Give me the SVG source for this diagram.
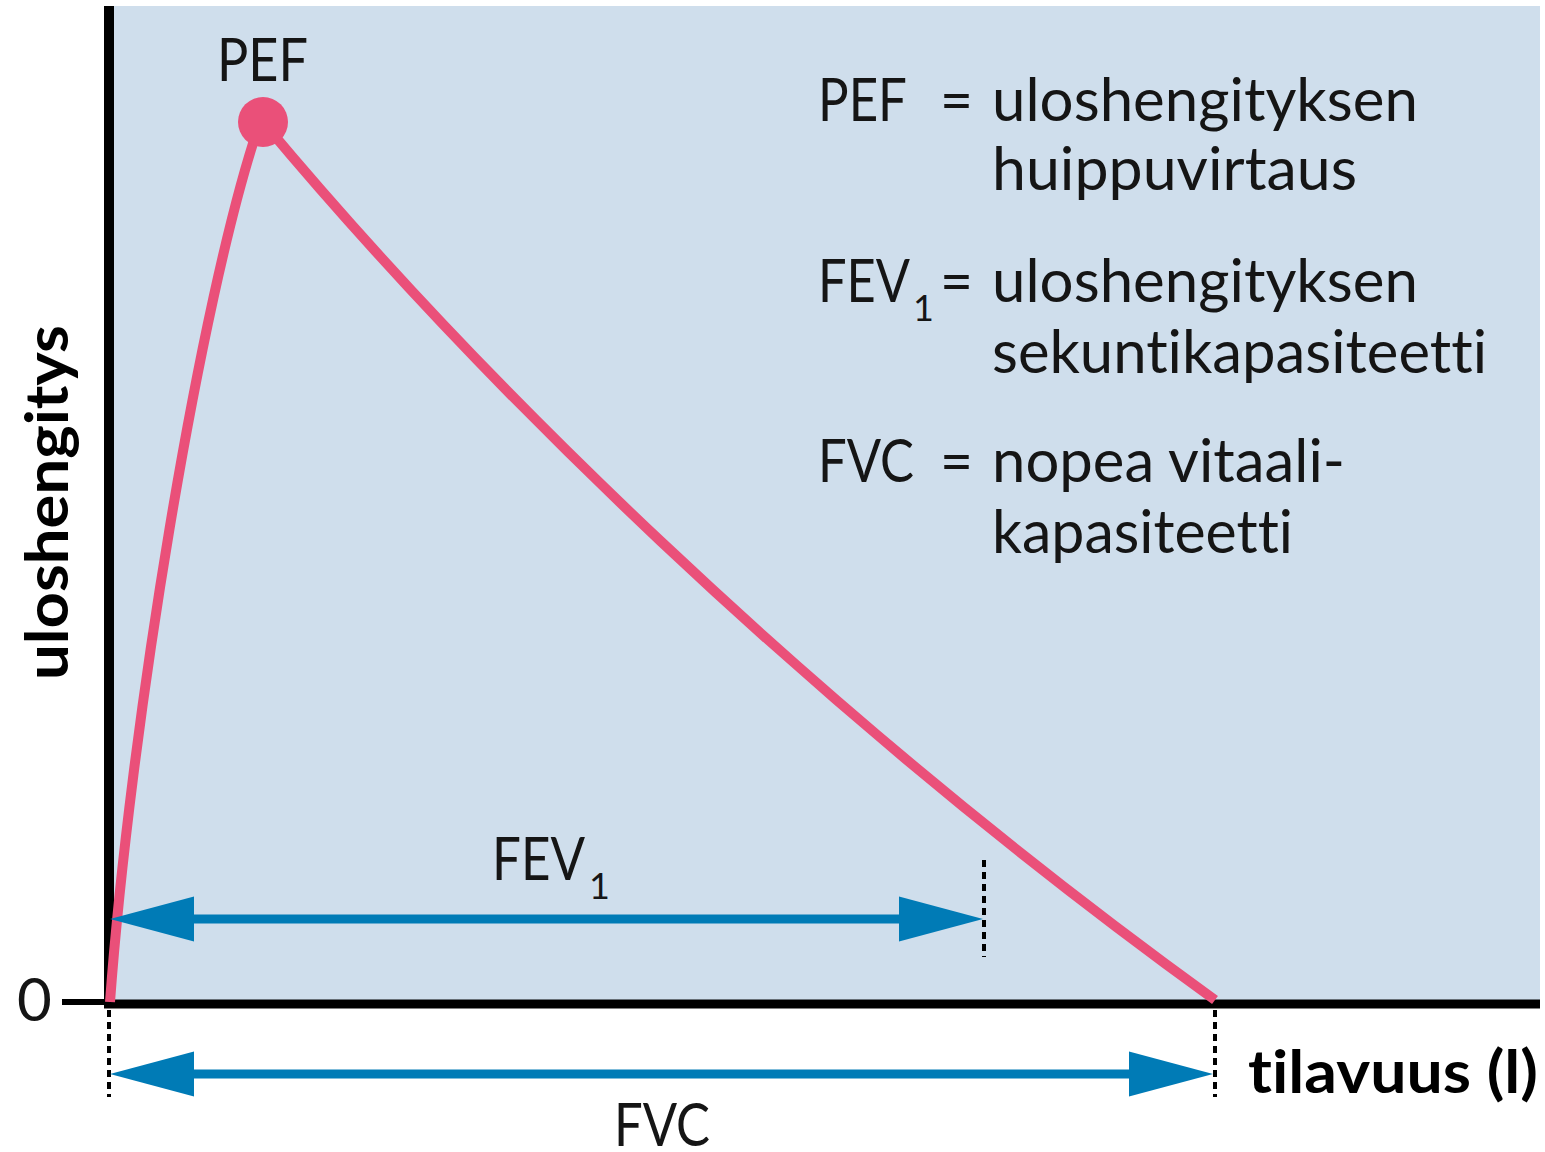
<svg xmlns="http://www.w3.org/2000/svg" xmlns:xlink="http://www.w3.org/1999/xlink" width="1545" height="1152" viewBox="0 0 1545 1152">
  <style>
    .t { font-family: Lato, "Open Sans", "Liberation Sans", sans-serif; fill: #151515; font-size: 60px; font-variant-ligatures: none; font-feature-settings: "liga" 0; }
    .b { font-family: Lato, "Open Sans", "Liberation Sans", sans-serif; fill: #000; font-weight: bold; font-size: 60px; font-variant-ligatures: none; font-feature-settings: "liga" 0; }
    .sub { font-size: 36px; }
    .axis { stroke: #000; fill: none; }
    .dash { stroke: #000; stroke-width: 4; stroke-dasharray: 7 5; fill: none; }
    .curve { stroke: #ea5079; stroke-width: 10; fill: none; stroke-linejoin: round; }
    .shaft { stroke: #007bb6; stroke-width: 9; fill: none; }
    .head { fill: #007bb6; }
  </style>
  <defs>
    <path id="headR" class="head" d="M0 0 L-84 -22.5 L-84 22.5 Z"/>
    <path id="headL" class="head" d="M0 0 L84 -22.5 L84 22.5 Z"/>
  </defs>
  <rect width="1545" height="1152" fill="#fff"/>
  <g id="plot-area">
    <rect x="109" y="6" width="1431" height="998" fill="#cfdeec"/>
  </g>
  <g id="axes">
    <line class="axis" x1="109" y1="6" x2="109" y2="1008" stroke-width="10"/>
    <line class="axis" x1="104" y1="1004" x2="1540" y2="1004" stroke-width="9"/>
    <line class="axis" x1="62" y1="1002" x2="109" y2="1002" stroke-width="6"/>
  </g>
  <g id="curve">
    <path class="curve" d="M110 1002 C130 730, 200 300, 258 128"/>
    <path class="curve" d="M263 122 C470 370, 800 700, 1215 1000"/>
  </g>
  <g id="pef-point">
    <circle cx="263" cy="122" r="25" fill="#ea5079"/>
    <text class="t" x="217" y="81" textLength="91" lengthAdjust="spacingAndGlyphs">PEF</text>
  </g>
  <g id="connectors">
    <line class="dash" x1="984" y1="860" x2="984" y2="957"/>
    <line class="dash" x1="1215" y1="1010" x2="1215" y2="1097"/>
    <line class="dash" x1="109" y1="1010" x2="109" y2="1097"/>
    <line class="shaft" x1="150" y1="919" x2="940" y2="919"/>
    <use xlink:href="#headL" x="110" y="919"/>
    <use xlink:href="#headR" x="983" y="919"/>
    <line class="shaft" x1="150" y1="1074" x2="1170" y2="1074"/>
    <use xlink:href="#headL" x="110" y="1074"/>
    <use xlink:href="#headR" x="1213" y="1074"/>
  </g>
  <g id="fev1-label">
    <text class="t" x="492" y="880" textLength="93" lengthAdjust="spacingAndGlyphs">FEV</text>
    <text class="t sub" x="589" y="899">1</text>
  </g>
  <g id="fvc-label">
    <text class="t" x="614" y="1146" textLength="96" lengthAdjust="spacingAndGlyphs">FVC</text>
  </g>
  <g id="zero-label">
    <text class="t" x="17" y="1021">0</text>
  </g>
  <g id="x-axis-label">
    <text class="b" x="1248" y="1093" textLength="290" lengthAdjust="spacingAndGlyphs">tilavuus (l)</text>
  </g>
  <g id="y-axis-label">
    <text class="b" transform="translate(68 680) rotate(-90)" x="0" y="0" font-size="62" textLength="355" lengthAdjust="spacingAndGlyphs">uloshengitys</text>
  </g>
  <g id="legend">
    <text class="t" x="818" y="121" textLength="89" lengthAdjust="spacingAndGlyphs">PEF</text>
    <text class="t" x="940" y="121" textLength="33" lengthAdjust="spacingAndGlyphs">=</text>
    <text class="t" x="992" y="121" textLength="426" lengthAdjust="spacingAndGlyphs">uloshengityksen</text>
    <text class="t" x="992" y="190" textLength="365" lengthAdjust="spacingAndGlyphs">huippuvirtaus</text>

    <text class="t" x="818" y="302" textLength="92" lengthAdjust="spacingAndGlyphs">FEV</text>
    <text class="t sub" x="913" y="321">1</text>
    <text class="t" x="940" y="302" textLength="33" lengthAdjust="spacingAndGlyphs">=</text>
    <text class="t" x="992" y="302" textLength="426" lengthAdjust="spacingAndGlyphs">uloshengityksen</text>
    <text class="t" x="992" y="373" textLength="495" lengthAdjust="spacingAndGlyphs">sekuntikapasiteetti</text>

    <text class="t" x="818" y="482" textLength="96" lengthAdjust="spacingAndGlyphs">FVC</text>
    <text class="t" x="940" y="482" textLength="33" lengthAdjust="spacingAndGlyphs">=</text>
    <text class="t" x="992" y="482" textLength="353" lengthAdjust="spacingAndGlyphs">nopea vitaali-</text>
    <text class="t" x="992" y="553" textLength="301" lengthAdjust="spacingAndGlyphs">kapasiteetti</text>
  </g>
</svg>
